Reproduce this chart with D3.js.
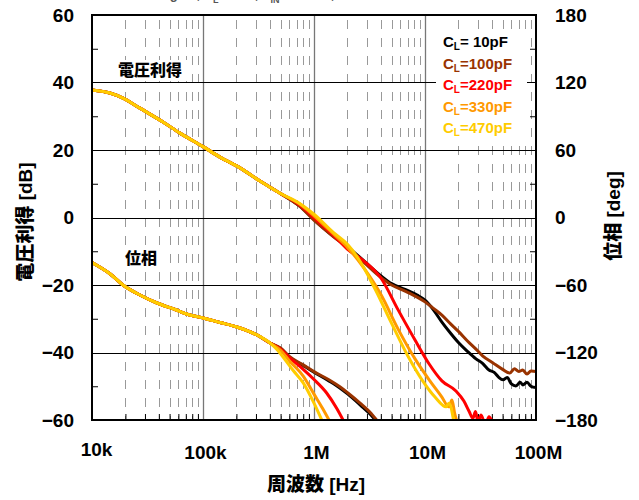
<!DOCTYPE html>
<html><head><meta charset="utf-8">
<script src="https://cdn.jsdelivr.net/npm/d3@7"></script>
<style>
body{margin:0;background:#fff}
svg{display:block}
text{font-family:"Liberation Sans",Arial,"Noto Sans CJK JP",sans-serif;font-weight:bold}
.cjk{font-weight:900}
</style>
</head><body>
<svg id="c" width="639" height="500"></svg>
<script>
// ---------- data ----------
const seriesNames = ["10pF", "100pF", "220pF", "330pF", "470pF"];
const xTickValues = [1e4, 1e5, 1e6, 1e7, 1e8];
const xTickLabels = ["10k", "100k", "1M", "10M", "100M"];
const gainTicks = [-60, -40, -20, 0, 20, 40, 60];
const gainMinorTicks = [-50, -30, -10, 10, 30, 50];
const phaseTicks = [-180, -120, -60, 0, 60, 120, 180];
const phaseMinorTicks = [-150, -90, -30, 30, 90, 150];

// gain [Hz, dB]
const gainCommon = [[1e4,37.8],[1.45e4,36.9],[1.9e4,35.4],[2.7e4,32.4],[4.36e4,28.3],[6.2e4,25.0],[1e5,21.0],[1.42e5,17.9],[2.15e5,14.7],[3.26e5,10.8],[4.94e5,7.2]];
const gain10 = [[7.5e5,3.3],[1e6,-0.6],[1.5e6,-5.6],[2.02e6,-8.8],[2.8e6,-12.8],[4.02e6,-17.3],[5.0e6,-19.6],[6.61e6,-21.3],[8.5e6,-23.0],[1e7,-24.5],[1.2e7,-27.5],[1.42e7,-31.0],[1.7e7,-34.3],[2.02e7,-37.2],[2.4e7,-39.6],[2.88e7,-41.9],[3.3e7,-43.2],[3.77e7,-45.2],[4.2e7,-45.9],[4.6e7,-47.3],[5.05e7,-48.1],[5.5e7,-47.4],[6.0e7,-49.3],[6.6e7,-49.9],[7.2e7,-48.8],[7.6e7,-49.6],[8.3e7,-48.8],[9.0e7,-50.0],[1e8,-50.4]];
const gain100 = [[7.5e5,3.2],[1e6,-0.8],[1.5e6,-5.7],[2.02e6,-9.0],[2.8e6,-13.2],[4.02e6,-17.8],[5.0e6,-20.0],[6.61e6,-21.8],[8.5e6,-23.6],[1e7,-25.0],[1.2e7,-27.0],[1.42e7,-28.9],[1.7e7,-31.5],[2.02e7,-33.9],[2.4e7,-36.5],[2.88e7,-39.0],[3.3e7,-41.0],[4.1e7,-43.1],[5.0e7,-45.0],[5.8e7,-46.1],[6.4e7,-44.8],[7.0e7,-45.6],[7.6e7,-45.2],[8.3e7,-46.4],[9.0e7,-45.5],[1e8,-45.6]];
const gain220 = [[7.5e5,3.6],[1e6,-0.1],[1.5e6,-5.3],[2.02e6,-9.5],[2.82e6,-12.9],[4.02e6,-18.0],[5.71e6,-27.3],[8.13e6,-36.3],[1.09e7,-43.4],[1.42e7,-48.4],[1.9e7,-51.4],[2.24e7,-54.4],[2.5e7,-57.5],[2.7e7,-59.5],[2.85e7,-57.5],[3.0e7,-60.5],[3.2e7,-58.5],[3.5e7,-61.5],[3.77e7,-59.0],[4.1e7,-61.0]];
const gain330 = [[7.5e5,3.9],[1e6,0.5],[1.5e6,-4.9],[2.02e6,-9.0],[2.82e6,-15.0],[4.02e6,-22.9],[5.71e6,-33.0],[8.13e6,-41.9],[1.09e7,-48.1],[1.42e7,-53.2],[1.64e7,-56.1],[1.75e7,-54.1],[1.85e7,-58.0],[1.94e7,-60.5]];
const gain470 = [[7.5e5,4.1],[1e6,1.0],[1.5e6,-4.5],[2.02e6,-8.1],[2.49e6,-12.0],[3.55e6,-21.2],[4.94e6,-31.0],[7.03e6,-41.1],[9.4e6,-48.1],[1.23e7,-53.2],[1.55e7,-56.1],[1.64e7,-55.0],[1.82e7,-60.5]];

// phase [Hz, deg]
const phaseCommon = [[1e4,-40],[1.45e4,-50],[1.9e4,-60],[2.7e4,-68.9],[3.85e4,-76],[5.6e4,-81.8],[7.6e4,-86.7],[1e5,-89.3],[1.42e5,-93.3],[2.02e5,-97.3],[3.06e5,-104.4],[4.02e5,-111.6]];
const phase10 = [[5e5,-116.5],[6.08e5,-124.5],[8e5,-131.5],[1e6,-137.5],[1.35e6,-145],[1.71e6,-151.5],[2.02e6,-157],[2.6e6,-166.5],[3.26e6,-175.5],[3.7e6,-182]];
const phase100 = [[5e5,-116],[6.08e5,-124],[8e5,-131],[1e6,-137],[1.35e6,-144],[1.71e6,-150.5],[2.02e6,-156],[2.6e6,-165],[3.26e6,-174],[3.8e6,-182]];
const phase220 = [[5e5,-117],[6.08e5,-125],[8e5,-135],[1e6,-144],[1.3e6,-156],[1.61e6,-170],[1.85e6,-181]];
const phase330 = [[5e5,-118],[6.08e5,-128],[8e5,-141],[1e6,-157],[1.2e6,-170],[1.4e6,-182]];
const phase470 = [[4.5e5,-116],[5.26e5,-124],[6.5e5,-136],[8e5,-147],[1e6,-165],[1.2e6,-182]];

const gainTails = [gain10, gain100, gain220, gain330, gain470];
const phaseTails = [phase10, phase100, phase220, phase330, phase470];
const colors = ["#000000", "#993300", "#ff0000", "#ff9900", "#ffcc00"];

// ---------- layout ----------
const L = 92, R = 536, T = 15, B = 420;
const svg = d3.select("#c");
const x = d3.scaleLog().domain([1e4, 1e8]).range([L, R]);
const yG = d3.scaleLinear().domain([-60, 60]).range([B, T]);
const yP = d3.scaleLinear().domain([-180, 180]).range([B, T]);
const px = v => Math.round(v) + 0.5;

// clipped title (top, mostly outside)
const title = svg.append("text").attr("x", 150).attr("y", -1).attr("font-size", 13).attr("fill", "#555");
title.append("tspan").text("Av  gain,  R");
title.append("tspan").attr("font-size", 9).attr("dy", 4).text("L");
title.append("tspan").attr("dy", -4).text("=1MΩ,  V");
title.append("tspan").attr("font-size", 9).attr("dy", 4).text("IN");
title.append("tspan").attr("dy", -4).text("=-60dBV,  Ta=25°C");

// minor vertical dashed grid
const minors = [];
for (let d = 1e4; d < 1e8; d *= 10) for (let m = 2; m <= 9; m++) minors.push(d * m);
svg.append("g").selectAll("line").data(minors).join("line")
  .attr("x1", d => px(x(d))).attr("x2", d => px(x(d))).attr("y1", T).attr("y2", B)
  .attr("stroke", "#999").attr("stroke-width", 1).attr("stroke-dasharray", "9,9").attr("stroke-dashoffset", 13);

// major vertical grid
svg.append("g").selectAll("line").data(xTickValues.slice(1, -1)).join("line")
  .attr("x1", d => px(x(d))).attr("x2", d => px(x(d))).attr("y1", T).attr("y2", B)
  .attr("stroke", "#777").attr("stroke-width", 1.3);

// horizontal grid
svg.append("g").selectAll("line").data(gainTicks.slice(1, -1)).join("line")
  .attr("x1", L).attr("x2", R).attr("y1", d => px(yG(d))).attr("y2", d => px(yG(d)))
  .attr("stroke", "#000").attr("stroke-width", 1);

// bottom minor ticks
svg.append("g").attr("transform", `translate(0,${B})`)
  .call(d3.axisBottom(x).tickValues(minors).tickSize(-6).tickFormat(""))
  .call(g => g.select(".domain").remove())
  .call(g => g.selectAll("line").attr("stroke", "#000"));
// left / right minor ticks
svg.append("g").attr("transform", `translate(${L},0)`)
  .call(d3.axisLeft(yG).tickValues(gainMinorTicks).tickSize(-6).tickFormat(""))
  .call(g => g.select(".domain").remove());
svg.append("g").attr("transform", `translate(${R},0)`)
  .call(d3.axisRight(yP).tickValues(phaseMinorTicks).tickSize(-6).tickFormat(""))
  .call(g => g.select(".domain").remove());

// label backgrounds
svg.append("rect").attr("x", 115).attr("y", 60).attr("width", 72).attr("height", 21).attr("fill", "#fff");
svg.append("rect").attr("x", 122).attr("y", 248).attr("width", 40).attr("height", 21).attr("fill", "#fff");
svg.append("rect").attr("x", 436).attr("y", 30).attr("width", 91).attr("height", 110).attr("fill", "#fff");

// curves
svg.append("clipPath").attr("id", "pa").append("rect")
  .attr("x", L).attr("y", T).attr("width", R - L).attr("height", B - T);
const plot = svg.append("g").attr("clip-path", "url(#pa)");
const lineG = d3.line().x(d => x(d[0])).y(d => yG(d[1])).curve(d3.curveMonotoneX);
const lineP = d3.line().x(d => x(d[0])).y(d => yP(d[1])).curve(d3.curveMonotoneX);
seriesNames.forEach((n, i) => {
  plot.append("path").datum(phaseCommon.concat(phaseTails[i])).attr("d", lineP)
    .attr("fill", "none").attr("stroke", colors[i]).attr("stroke-width", 3).attr("stroke-linejoin", "round");
});
seriesNames.forEach((n, i) => {
  plot.append("path").datum(gainCommon.concat(gainTails[i])).attr("d", lineG)
    .attr("fill", "none").attr("stroke", colors[i]).attr("stroke-width", 3).attr("stroke-linejoin", "round");
});

// frame
svg.append("rect").attr("x", L).attr("y", T).attr("width", R - L).attr("height", B - T)
  .attr("fill", "none").attr("stroke", "#000").attr("stroke-width", 2);

// axes labels
svg.append("g").attr("transform", `translate(${L},0)`)
  .call(d3.axisLeft(yG).tickValues(gainTicks).tickSize(0).tickPadding(18))
  .call(g => g.select(".domain").remove())
  .call(g => g.selectAll("text").attr("font-size", 19).attr("font-family", null).attr("fill", "#000"));
svg.append("g").attr("transform", `translate(${R},0)`)
  .call(d3.axisRight(yP).tickValues(phaseTicks).tickSize(0).tickPadding(19))
  .call(g => g.select(".domain").remove())
  .call(g => g.selectAll("text").attr("font-size", 19).attr("font-family", null).attr("fill", "#000"));
svg.append("g").attr("transform", `translate(0,${B})`)
  .call(d3.axisBottom(x).tickValues(xTickValues).tickFormat((d, i) => xTickLabels[i]).tickSize(0).tickPadding(26))
  .call(g => g.select(".domain").remove())
  .call(g => g.selectAll("text").attr("font-size", 19).attr("font-family", null).attr("fill", "#000")
    .attr("transform", (d, i) => i === 0 ? "translate(4,-3)" : "translate(2,0)"));

// axis titles
svg.append("text").attr("class", "cjk").attr("transform", "translate(32,222) rotate(-90)").attr("text-anchor", "middle")
  .attr("font-size", 19).text("電圧利得 [dB]");
svg.append("text").attr("class", "cjk").attr("transform", "translate(620,216) rotate(-90)").attr("text-anchor", "middle")
  .attr("font-size", 19).text("位相 [deg]");
svg.append("text").attr("class", "cjk").attr("x", 316).attr("y", 491).attr("text-anchor", "middle")
  .attr("font-size", 19).text("周波数 [Hz]");

// inner labels
svg.append("text").attr("class", "cjk").attr("x", 118).attr("y", 76).attr("font-size", 16).text("電圧利得");
svg.append("text").attr("class", "cjk").attr("x", 125).attr("y", 264).attr("font-size", 16).text("位相");

// legend
const legendLabels = ["= 10pF", "=100pF", "=220pF", "=330pF", "=470pF"];
seriesNames.forEach((n, i) => {
  const t = svg.append("text").attr("x", 443).attr("y", 47 + i * 21.5).attr("font-size", 15).attr("fill", colors[i]);
  t.append("tspan").text("C");
  t.append("tspan").attr("font-size", 10).attr("dy", 3).text("L");
  t.append("tspan").attr("dy", -3).text(legendLabels[i]);
});
</script>
</body></html>
